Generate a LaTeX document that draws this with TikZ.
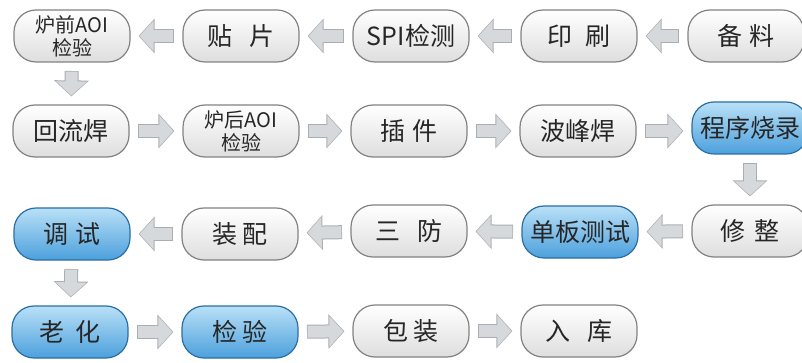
\documentclass[tikz,border=0pt]{standalone}
\usepackage{fontspec}
\setmainfont{Noto Sans CJK SC}
\usepackage{tikz}
\usepackage{xcolor}
\usetikzlibrary{arrows.meta,shadings}

\definecolor{boxline}{RGB}{130,130,130}
\definecolor{boxlow}{RGB}{222,222,222}
\definecolor{blueline}{RGB}{42,110,166}
\definecolor{bluetop}{RGB}{185,224,247}
\definecolor{bluelow}{RGB}{76,160,220}
\definecolor{arrowfill}{RGB}{214,217,220}
\definecolor{arrowedge}{RGB}{170,174,178}

\tikzset{
  stagebox/.style={rounded corners=11pt, draw=boxline, line width=0.6pt,
    top color=white, bottom color=boxlow, minimum width=58pt, minimum height=26pt,
    inner sep=1pt, text=black!85, font=\fontsize{12.5pt}{14pt}\selectfont, align=center},
  smalltext/.style={font=\fontsize{10pt}{11.5pt}\selectfont},
  bluebox/.style={stagebox, draw=blueline, top color=bluetop, bottom color=bluelow},
  flowarrow/.style={line width=6pt, draw=arrowfill, shorten <=4.5pt, shorten >=4.5pt,
    -{Triangle[width=15pt,length=7pt]},
    preaction={draw=arrowedge, line width=7pt, shorten <=4.2pt, shorten >=4pt,
      -{Triangle[width=17pt,length=8pt]}}}
}

\begin{document}
\begin{tikzpicture}[x=0.5pt,y=-0.5pt]
  \useasboundingbox (0,0) rectangle (802,363);

  % Row 1
  \node[stagebox,smalltext] (aoipre) at (72,36) {炉前AOI\\检验};
  \node[stagebox] (mount) at (241,36) {贴\hspace{0.7em}片};
  \node[stagebox] (spi) at (411,36) {SPI检测};
  \node[stagebox] (print) at (579,36) {印\hspace{0.5em}刷};
  \node[stagebox] (prep) at (746,36) {备\hspace{0.3em}料};

  % Row 2
  \node[stagebox] (reflow) at (71,131) {回流焊};
  \node[stagebox,smalltext] (aoipost) at (241,131) {炉后AOI\\检验};
  \node[stagebox] (insert) at (409,131) {插\hspace{0.3em}件};
  \node[stagebox] (wave) at (578,131) {波峰焊};
  \node[bluebox] (burn) at (750,128) {程序烧录};

  % Row 3
  \node[stagebox] (trim) at (750,231) {修\hspace{0.4em}整};
  \node[bluebox] (boardtest) at (580,232) {单板测试};
  \node[stagebox] (coat) at (409,231) {三\hspace{0.7em}防};
  \node[stagebox] (assy) at (240,234) {装\hspace{0.2em}配};
  \node[bluebox] (debug) at (72,234) {调\hspace{0.3em}试};

  % Row 4
  \node[bluebox] (aging) at (70,332) {老\hspace{0.45em}化};
  \node[bluebox] (check) at (240,332) {检\hspace{0.2em}验};
  \node[stagebox] (pack) at (411,331) {包\hspace{0.2em}装};
  \node[stagebox] (store) at (579,331) {入\hspace{0.7em}库};

  % Arrows
  \draw[flowarrow] (prep) -- (print);
  \draw[flowarrow] (print) -- (spi);
  \draw[flowarrow] (spi) -- (mount);
  \draw[flowarrow] (mount) -- (aoipre);
  \draw[flowarrow] (aoipre) -- (reflow);
  \draw[flowarrow] (reflow) -- (aoipost);
  \draw[flowarrow] (aoipost) -- (insert);
  \draw[flowarrow] (insert) -- (wave);
  \draw[flowarrow] (wave) -- (wave -| burn.west);
  \draw[flowarrow] (burn) -- (trim);
  \draw[flowarrow] (trim) -- (boardtest);
  \draw[flowarrow] (boardtest) -- (coat);
  \draw[flowarrow] (coat) -- (assy);
  \draw[flowarrow] (assy) -- (debug);
  \draw[flowarrow] (debug) -- (aging);
  \draw[flowarrow] (aging) -- (check);
  \draw[flowarrow] (check) -- (pack);
  \draw[flowarrow] (pack) -- (store);
\end{tikzpicture}
\end{document}
